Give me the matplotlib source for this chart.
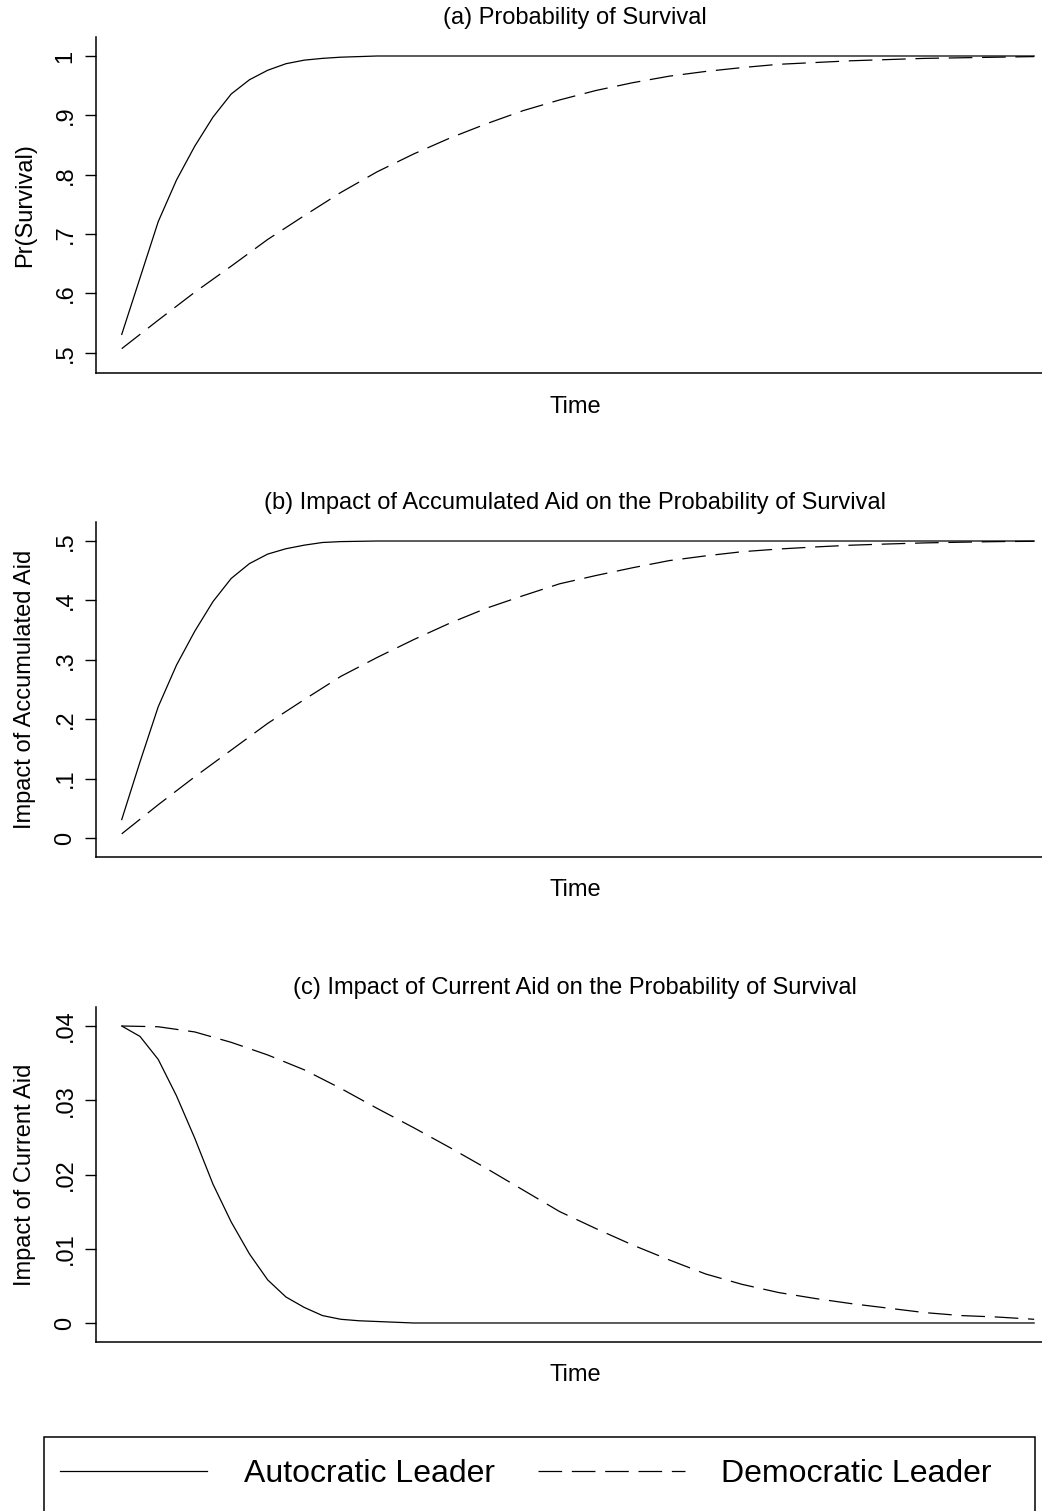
import matplotlib
matplotlib.use('Agg')
import matplotlib.pyplot as plt
from matplotlib.patches import Rectangle

plt.rcParams['font.family'] = ['Liberation Sans', 'DejaVu Sans']
plt.rcParams['lines.scale_dashes'] = False

# tiempo (sin unidades en el eje); las curvas continuas se leen más densas al principio
tiempo_auto = list(range(0, 17)) + [20, 30, 40, 50]
tiempo_demo = list(range(0, 51, 2))

# (a) probabilidad de supervivencia
superv_auto = [0.531, 0.626, 0.721, 0.791, 0.848, 0.897, 0.936, 0.960, 0.976,
               0.987, 0.993, 0.996, 0.998, 0.999, 1.0, 1.0, 1.0, 1.0, 1.0, 1.0, 1.0]
superv_demo = [0.507, 0.555, 0.602, 0.646, 0.691, 0.731, 0.770, 0.805, 0.835,
               0.862, 0.886, 0.908, 0.926, 0.942, 0.955, 0.966, 0.974, 0.9805,
               0.986, 0.989, 0.992, 0.994, 0.996, 0.997, 0.998, 0.999]

# (b) impacto de la ayuda acumulada
acum_auto = [0.031, 0.128, 0.221, 0.291, 0.348, 0.398, 0.437, 0.462, 0.478,
             0.487, 0.493, 0.4975, 0.499, 0.4995, 0.5, 0.5, 0.5, 0.5, 0.5, 0.5, 0.5]
acum_demo = [0.007, 0.056, 0.103, 0.148, 0.193, 0.233, 0.272, 0.304, 0.334,
             0.362, 0.387, 0.408, 0.428, 0.442, 0.455, 0.467, 0.475, 0.482,
             0.4865, 0.490, 0.493, 0.495, 0.4968, 0.498, 0.499, 0.4995]

# (c) impacto de la ayuda actual
actual_auto = [0.040, 0.0386, 0.0355, 0.0306, 0.0249, 0.0187, 0.0136, 0.0093,
               0.0058, 0.0035, 0.0021, 0.0010, 0.0005, 0.0003, 0.0002, 0.0001,
               0.0, 0.0, 0.0, 0.0, 0.0]
actual_demo = [0.0400, 0.0399, 0.0392, 0.0378, 0.0361, 0.0341, 0.0316, 0.0289,
               0.0263, 0.0236, 0.0208, 0.0179, 0.0150, 0.0127, 0.0105, 0.0085,
               0.0066, 0.0052, 0.0041, 0.0033, 0.0026, 0.0020, 0.0014, 0.0010,
               0.0008, 0.0005]

titulos = ['(a) Probability of Survival',
           '(b) Impact of Accumulated Aid on the Probability of Survival',
           '(c) Impact of Current Aid on the Probability of Survival']
etiquetas_y = ['Pr(Survival)', 'Impact of Accumulated Aid', 'Impact of Current Aid']
ticks_a = [0.5, 0.6, 0.7, 0.8, 0.9, 1.0]
ticks_a_txt = ['.5', '.6', '.7', '.8', '.9', '1']
ticks_b = [0.0, 0.1, 0.2, 0.3, 0.4, 0.5]
ticks_b_txt = ['0', '.1', '.2', '.3', '.4', '.5']
ticks_c = [0.0, 0.01, 0.02, 0.03, 0.04]
ticks_c_txt = ['0', '.01', '.02', '.03', '.04']
nombres = ['Autocratic Leader', 'Democratic Leader']

W, H = 1042, 1511
fig = plt.figure(figsize=(W / 100, H / 100), dpi=100)

paneles = [
    (373, 336, superv_auto, superv_demo, ticks_a, ticks_a_txt, (0.466, 1.032), 18, 407),
    (857, 335, acum_auto, acum_demo, ticks_b, ticks_b_txt, (-0.032, 0.532), 503, 890),
    (1342, 335, actual_auto, actual_demo, ticks_c, ticks_c_txt, (-0.00256, 0.04256), 988, 1375),
]

FS = 17
lineas = []
for i, (fondo, alto, auto, demo, ticks, ticks_txt, ylim, y_tit, y_time) in enumerate(paneles):
    ax = fig.add_axes([96 / W, 1 - fondo / H, 946 / W, alto / H])
    l1, = ax.plot(tiempo_auto, auto, color='black', lw=0.9)
    l2, = ax.plot(tiempo_demo, demo, color='black', lw=0.9, dashes=(17, 7))
    lineas = [l1, l2]
    ax.set_xlim(-1.41, 50.43)
    ax.set_ylim(*ylim)
    ax.set_xticks([])
    ax.set_yticks(ticks)
    ax.set_yticklabels(ticks_txt, rotation=90, va='center', fontsize=FS)
    ax.tick_params(axis='y', length=8, width=1.0, pad=6)
    for lado in ['top', 'right']:
        ax.spines[lado].set_visible(False)
    for lado in ['left', 'bottom']:
        ax.spines[lado].set_linewidth(1.1)
    ax.set_ylabel(etiquetas_y[i], fontsize=FS)
    ax.yaxis.set_label_coords(-0.063, 0.5)
    fig.text(575 / W, 1 - y_tit / H, titulos[i], ha='center', va='center', fontsize=FS)
    fig.text(575 / W, 1 - y_time / H, 'Time', ha='center', va='center', fontsize=FS)

# recuadro de la leyenda (cortado por el borde inferior)
fig.patches.append(Rectangle((44 / W, -0.01), 991 / W, 1 - 1437 / H + 0.01,
                             transform=fig.transFigure, fill=False,
                             edgecolor='black', linewidth=1.1))
fig.legend(lineas, nombres, loc='center left', frameon=False,
           bbox_to_anchor=(60 / W, 1 - 1474 / H), ncol=2, fontsize=23,
           handlelength=4.6, handletextpad=1.15, columnspacing=1.35,
           borderpad=0, borderaxespad=0)

fig.savefig('out.png', dpi=100)
